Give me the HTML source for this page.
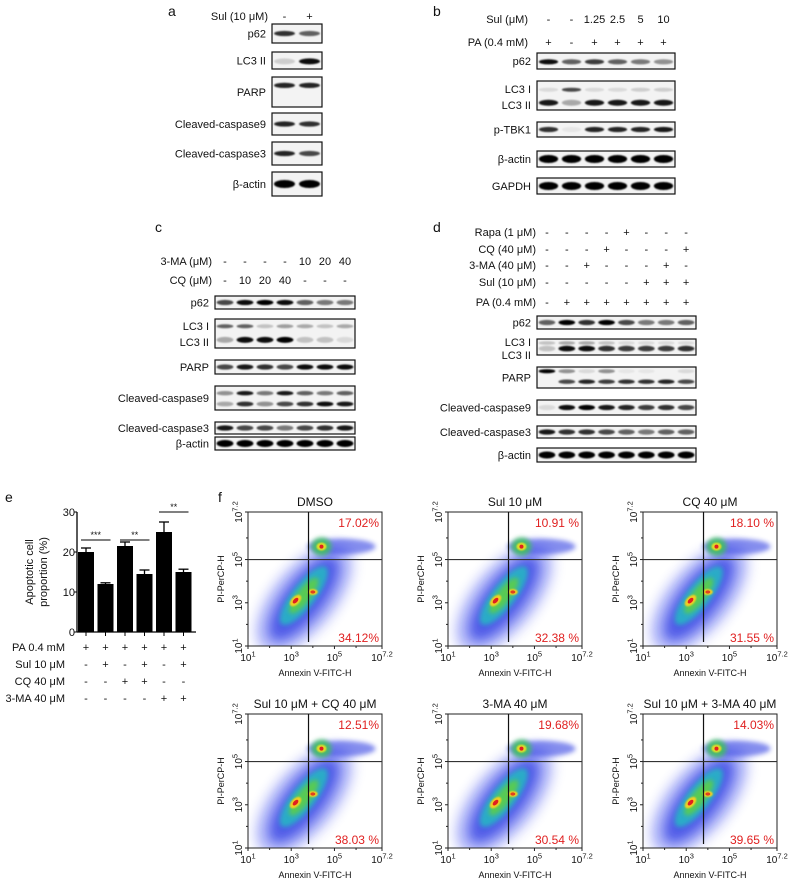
<!DOCTYPE html>
<html><head><meta charset="utf-8"><style>
html,body{margin:0;padding:0;background:#fff;}
svg{display:block;font-family:"Liberation Sans",Arial,sans-serif;}
</style></head><body>
<svg id="fig" width="790" height="882" viewBox="0 0 790 882" xmlns="http://www.w3.org/2000/svg">
<defs>
<filter id="bb" x="-20%" y="-50%" width="140%" height="200%"><feGaussianBlur stdDeviation="0.9"/></filter>
<filter id="fb" x="-50%" y="-50%" width="200%" height="200%"><feGaussianBlur stdDeviation="6"/></filter>
<filter id="fb2" x="-50%" y="-50%" width="200%" height="200%"><feGaussianBlur stdDeviation="2.5"/></filter>
</defs>
</svg>
<script>
// ---------- Panel e data ----------
const barCategories = ['PA','PA+Sul','PA+CQ','PA+Sul+CQ','PA+3-MA','PA+Sul+3-MA'];
const barValues = [20, 12, 21.5, 14.5, 25, 15];
const barErrors = [1, 0.3, 1, 1, 2.5, 0.7];
const barTicks = [0, 10, 20, 30];
// ---------- Panel f data ----------
const flowTitles = ['DMSO','Sul 10 μM','CQ 40 μM','Sul 10 μM + CQ 40 μM','3-MA 40 μM','Sul 10 μM + 3-MA 40 μM'];
const flowUpper = ['17.02%','10.91 %','18.10 %','12.51%','19.68%','14.03%'];
const flowLower = ['34.12%','32.38 %','31.55 %','38.03 %','30.54 %','39.65 %'];

const NS='http://www.w3.org/2000/svg';
const svg=document.getElementById('fig');
function mk(tag,attrs,parent){const e=document.createElementNS(NS,tag);for(const k in attrs)e.setAttribute(k,attrs[k]);(parent||svg).appendChild(e);return e;}
function txt(x,y,s,size,anchor,parent,extra){const t=mk('text',Object.assign({x:x,y:y,'font-size':size||11,'text-anchor':anchor||'start',fill:'#111'},extra||{}),parent);t.textContent=s;return t;}
function sup(x,y,base,exp,size,anchor,parent,extra){const t=mk('text',Object.assign({x:x,y:y,'font-size':size,'text-anchor':anchor||'middle',fill:'#111'},extra||{}),parent);t.appendChild(document.createTextNode(base));const s=document.createElementNS(NS,'tspan');s.setAttribute('dy',-size*0.45);s.setAttribute('font-size',size*0.75);s.textContent=exp;t.appendChild(s);return t;}

// ---------- Blots ----------
function blot(name,x,y,w,h,n,label,bands){
  const g=mk('g',{});
  
  
  mk('rect',{x:x,y:y,width:w,height:h,fill:'#f3f3f3',stroke:'#111','stroke-width':1.2},g);
  const lw=w/n;
  bands.forEach(b=>{
    b.v.forEach((v,i)=>{
      if(v<=0)return;
      mk('ellipse',{cx:x+lw*(i+0.5),cy:y+h*b.p,rx:lw*0.42,ry:b.r||2.6,fill:'#000',opacity:Math.min(1,v),filter:'url(#bb)'},g);
    });
  });
  if(Array.isArray(label)){
    label.forEach(l=>txt(x-6,l[1],l[0],11,'end',g));
  }else txt(x-6,y+h/2+4,label,11,'end',g);
}
function header(labelX,y,label,xs,vals,size){
  txt(labelX,y,label,size||11,'end');
  vals.forEach((v,i)=>txt(xs[i],y,v,size||11,'middle'));
}
function lanes(x,w,n){const a=[];for(let i=0;i<n;i++)a.push(x+w/n*(i+0.5));return a;}

// panel a
txt(168,16,'a',14,'start');
header(268,20,'Sul (10 μM)',lanes(272,50,2),['-','+']);
const aX=272,aW=50;
blot('blot-a-p62',aX,24,aW,19,2,'p62',[{p:.5,v:[.8,.6]}]);
blot('blot-a-lc3',aX,52,aW,17,2,'LC3 II',[{p:.55,v:[.15,.95],r:3}]);
blot('blot-a-parp',aX,77,aW,30,2,'PARP',[{p:.28,v:[.85,.85]}]);
blot('blot-a-casp9',aX,113,aW,22,2,'Cleaved-caspase9',[{p:.5,v:[.85,.8]}]);
blot('blot-a-casp3',aX,142,aW,23,2,'Cleaved-caspase3',[{p:.5,v:[.85,.7]}]);
blot('blot-a-actin',aX,172,aW,24,2,'β-actin',[{p:.5,v:[1,1],r:4}]);

// panel b
txt(433,16,'b',14,'start');
const bX=537,bW=138,bL=lanes(bX,bW,6);
header(528,23,'Sul (μM)',bL,['-','-','1.25','2.5','5','10']);
header(528,46,'PA (0.4 mM)',bL,['+','-','+','+','+','+']);
blot('blot-b-p62',bX,53,bW,16,6,'p62',[{p:.55,v:[.95,.6,.75,.6,.5,.4]}]);
blot('blot-b-lc3',bX,81,bW,29,6,[['LC3  I',93],['LC3 II',109]],[{p:.3,v:[.1,.7,.1,.1,.15,.15],r:2},{p:.75,v:[.9,.3,.9,.9,.9,.9],r:3}]);
blot('blot-b-ptbk1',bX,122,bW,15,6,'p-TBK1',[{p:.5,v:[.8,.05,.85,.85,.85,.9]}]);
blot('blot-b-actin',bX,151,bW,16,6,'β-actin',[{p:.5,v:[1,1,1,1,1,1],r:4}]);
blot('blot-b-gapdh',bX,178,bW,16,6,'GAPDH',[{p:.5,v:[1,1,1,1,1,1],r:4}]);

// panel c
txt(155,232,'c',14,'start');
const cX=215,cW=140,cL=lanes(cX,cW,7);
header(212,265,'3-MA (μM)',cL,['-','-','-','-','10','20','40']);
header(212,284,'CQ (μM)',cL,['-','10','20','40','-','-','-']);
blot('blot-c-p62',cX,296,cW,13,7,'p62',[{p:.5,v:[.7,.95,1,.95,.6,.5,.5]}]);
blot('blot-c-lc3',cX,319,cW,29,7,[['LC3  I',330],['LC3 II',346]],[{p:.25,v:[.6,.6,.2,.35,.3,.2,.3],r:2},{p:.72,v:[.3,.95,.95,1,.2,.2,.1],r:3}]);
blot('blot-c-parp',cX,360,cW,14,7,'PARP',[{p:.5,v:[.7,.9,.8,.7,.95,.95,.95]}]);
blot('blot-c-casp9',cX,386,cW,24,7,'Cleaved-caspase9',[{p:.3,v:[.4,.9,.5,.9,.6,.5,.6],r:2.2},{p:.75,v:[.3,.8,.4,.7,.8,.95,.9],r:2.4}]);
blot('blot-c-casp3',cX,422,cW,12,7,'Cleaved-caspase3',[{p:.5,v:[.9,.7,.7,.5,.7,.8,.9]}]);
blot('blot-c-actin',cX,437,cW,13,7,'β-actin',[{p:.5,v:[1,1,1,1,1,1,1],r:3.5}]);

// panel d
txt(433,232,'d',14,'start');
const dX=537,dW=159,dL=lanes(dX,dW,8);
header(536,236,'Rapa (1 μM)',dL,['-','-','-','-','+','-','-','-']);
header(536,253,'CQ (40 μM)',dL,['-','-','-','+','-','-','-','+']);
header(536,269,'3-MA (40 μM)',dL,['-','-','+','-','-','-','+','-']);
header(536,286,'Sul (10 μM)',dL,['-','-','-','-','-','+','+','+']);
header(536,306,'PA (0.4 mM)',dL,['-','+','+','+','+','+','+','+']);
blot('blot-d-p62',dX,316,dW,13,8,'p62',[{p:.5,v:[.6,1,.8,1,.7,.5,.5,.6]}]);
blot('blot-d-lc3',dX,339,dW,16,8,[['LC3  I',346],['LC3 II',359]],[{p:.25,v:[.2,.3,.3,.2,.1,.1,.1,.1],r:1.8},{p:.6,v:[.2,.95,.95,.8,.75,.75,.75,.8],r:2.8}]);
blot('blot-d-parp',dX,367,dW,21,8,'PARP',[{p:.2,v:[1,.4,.1,.4,.05,.05,0,.1],r:2},{p:.7,v:[0,.7,.85,.75,.8,.8,.85,.7],r:2.2}]);
blot('blot-d-casp9',dX,400,dW,15,8,'Cleaved-caspase9',[{p:.5,v:[.1,.95,1,.9,.85,.75,.8,.7]}]);
blot('blot-d-casp3',dX,426,dW,12,8,'Cleaved-caspase3',[{p:.5,v:[.9,.8,.8,.7,.6,.5,.6,.6]}]);
blot('blot-d-actin',dX,448,dW,14,8,'β-actin',[{p:.5,v:[1,1,1,1,1,1,1,1],r:3.5}]);

// ---------- Panel e bar chart ----------
txt(5,502,'e',14,'start');
const eg=mk('g',{});


const eX0=77,eY0=632,eY1=512,eMax=30;
function yS(v){return eY0-(v/eMax)*(eY0-eY1);}
const bStep=19.5,bW2=16,bStart=78;
function xS(i){return bStart+i*bStep+bW2/2;}
barValues.forEach((v,i)=>{
  const r=mk('rect',{x:xS(i)-bW2/2,y:yS(v),width:bW2,height:eY0-yS(v),fill:'#000'},eg);
  
  
  const e=barErrors[i],top=yS(v+e);
  mk('line',{x1:xS(i),x2:xS(i),y1:yS(v),y2:top,stroke:'#000','stroke-width':1.3},eg);
  mk('line',{x1:xS(i)-5,x2:xS(i)+5,y1:top,y2:top,stroke:'#000','stroke-width':1.3},eg);
  mk('line',{x1:xS(i),x2:xS(i),y1:eY0,y2:eY0+4,stroke:'#000','stroke-width':1},eg);
});
mk('line',{x1:eX0,x2:eX0,y1:eY1,y2:eY0,stroke:'#000','stroke-width':1.3},eg);
mk('line',{x1:eX0,x2:196,y1:eY0,y2:eY0,stroke:'#000','stroke-width':1.3},eg);
barTicks.forEach(t=>{
  mk('line',{x1:eX0-3,x2:eX0,y1:yS(t),y2:yS(t),stroke:'#000'},eg);
  txt(eX0-2,yS(t)+4,String(t),11,'end',eg);
});
const yt=mk('g',{transform:'translate(37,572) rotate(-90)'},eg);


txt(0,-4,'Apoptotic cell',11,'middle',yt);
txt(0,10,'proportion (%)',11,'middle',yt);
function sig(i,j,yv,s){
  const y=yS(yv);
  mk('line',{x1:xS(i)-5,x2:xS(j)+5,y1:y,y2:y,stroke:'#000','stroke-width':1},eg);
  txt((xS(i)+xS(j))/2,y-2,s,9,'middle',eg);
}
sig(0,1,23,'***');sig(2,3,23,'**');sig(4,5,30,'**');
const eRows=[['PA 0.4 mM',['+','+','+','+','+','+']],['Sul 10 μM',['-','+','-','+','-','+']],['CQ 40 μM',['-','-','+','+','-','-']],['3-MA 40 μM',['-','-','-','-','+','+']]];
eRows.forEach((r,k)=>{
  const y=651+k*17;
  txt(65,y,r[0],11,'end',eg);
  r[1].forEach((s,i)=>txt(xS(i),y,s,11,'middle',eg));
});

// ---------- Panel f flow plots ----------
txt(218,502,'f',14,'start');
const fCols=[248,448,643],fRows=[512,714],fS=134;
function fx(x0,e){return x0+(e-1)/6.2*fS;}
function fy(y0,e){return y0+fS-(e-1)/6.2*fS;}
flowTitles.forEach((title,k)=>{
  const x0=fCols[k%3],y0=fRows[Math.floor(k/3)];
  const g=mk('g',{});
  
  
  const cp=mk('clipPath',{id:'cp'+k},g);
  mk('rect',{x:x0,y:y0,width:fS,height:fS},cp);
  const d=mk('g',{'clip-path':'url(#cp'+k+')'},g);
  const cx=fx(x0,3.6),cy=fy(y0,3.2);
  mk('ellipse',{cx:cx,cy:cy,rx:66,ry:32,fill:'#3040f0',opacity:.35,transform:'rotate(-50 '+cx+' '+cy+')',filter:'url(#fb)'},d);
  mk('ellipse',{cx:cx,cy:cy,rx:52,ry:20,fill:'#2030e0',opacity:.7,transform:'rotate(-52 '+cx+' '+cy+')',filter:'url(#fb)'},d);
  mk('ellipse',{cx:cx+2,cy:cy-2,rx:36,ry:12,fill:'#20c0c0',opacity:.8,transform:'rotate(-52 '+cx+' '+cy+')',filter:'url(#fb2)'},d);
  mk('ellipse',{cx:cx+2,cy:cy-2,rx:22,ry:7,fill:'#60d040',opacity:.85,transform:'rotate(-52 '+cx+' '+cy+')',filter:'url(#fb2)'},d);
  const ux=fx(x0,4.4),uy=fy(y0,5.6);
  mk('ellipse',{cx:ux+20,cy:uy,rx:34,ry:8,fill:'#2030e0',opacity:.55,filter:'url(#fb2)'},d);
  mk('ellipse',{cx:ux,cy:uy,rx:10,ry:9,fill:'#40c060',opacity:.9,filter:'url(#fb2)'},d);
  mk('ellipse',{cx:ux,cy:uy,rx:5,ry:4,fill:'#f0e020',opacity:.9,filter:'url(#bb)'},d);
  mk('circle',{cx:ux,cy:uy,r:2,fill:'#e02020'},d);
  mk('ellipse',{cx:fx(x0,3.2),cy:fy(y0,3.1),rx:7,ry:4,fill:'#f0d020',transform:'rotate(-45 '+fx(x0,3.2)+' '+fy(y0,3.1)+')',filter:'url(#bb)'},d);
  mk('ellipse',{cx:fx(x0,3.2),cy:fy(y0,3.1),rx:3.5,ry:2,fill:'#e02020',transform:'rotate(-45 '+fx(x0,3.2)+' '+fy(y0,3.1)+')'},d);
  mk('ellipse',{cx:fx(x0,4.0),cy:fy(y0,3.5),rx:5,ry:3,fill:'#f0d020',filter:'url(#bb)'},d);
  mk('ellipse',{cx:fx(x0,4.0),cy:fy(y0,3.5),rx:2.5,ry:1.6,fill:'#e04020'},d);
  mk('rect',{x:x0,y:y0,width:fS,height:fS,fill:'none',stroke:'#222','stroke-width':1},g);
  mk('line',{x1:fx(x0,3.8),x2:fx(x0,3.8),y1:y0,y2:y0+fS-4,stroke:'#111','stroke-width':1.2},g);
  mk('line',{x1:x0,x2:x0+fS,y1:fy(y0,5),y2:fy(y0,5),stroke:'#333','stroke-width':1.2},g);
  txt(x0+fS/2,y0-6,title,12,'middle',g);
  txt(x0+fS-3,y0+15,flowUpper[k],12,'end',g,{fill:'#e02020'});
  txt(x0+fS-3,y0+fS-4,flowLower[k],12,'end',g,{fill:'#e02020'});
  [1,3,5,7.2].forEach(e=>{
    mk('line',{x1:fx(x0,e),x2:fx(x0,e),y1:y0+fS,y2:y0+fS+3,stroke:'#222'},g);
    mk('line',{x1:x0-3,x2:x0,y1:fy(y0,e),y2:fy(y0,e),stroke:'#222'},g);
    sup(fx(x0,e),y0+fS+15,'10',e===7.2?'7.2':String(e),10,'middle',g);
    const ly=fy(y0,e);
    const rg=mk('g',{transform:'translate('+(x0-6)+','+ly+') rotate(-90)'},g);
    sup(0,0,'10',e===7.2?'7.2':String(e),10,'middle',rg);
  });
  [2,4,6].forEach(e=>{
    mk('line',{x1:fx(x0,e),x2:fx(x0,e),y1:y0+fS,y2:y0+fS+2,stroke:'#222'},g);
    mk('line',{x1:x0-2,x2:x0,y1:fy(y0,e),y2:fy(y0,e),stroke:'#222'},g);
  });
  txt(x0+fS/2,y0+fS+30,'Annexin V-FITC-H',9,'middle',g);
  const yl=mk('g',{transform:'translate('+(x0-24)+','+(y0+fS/2)+') rotate(-90)'},g);
  txt(0,0,'PI-PerCP-H',9,'middle',yl);
});
</script>
</body></html>
